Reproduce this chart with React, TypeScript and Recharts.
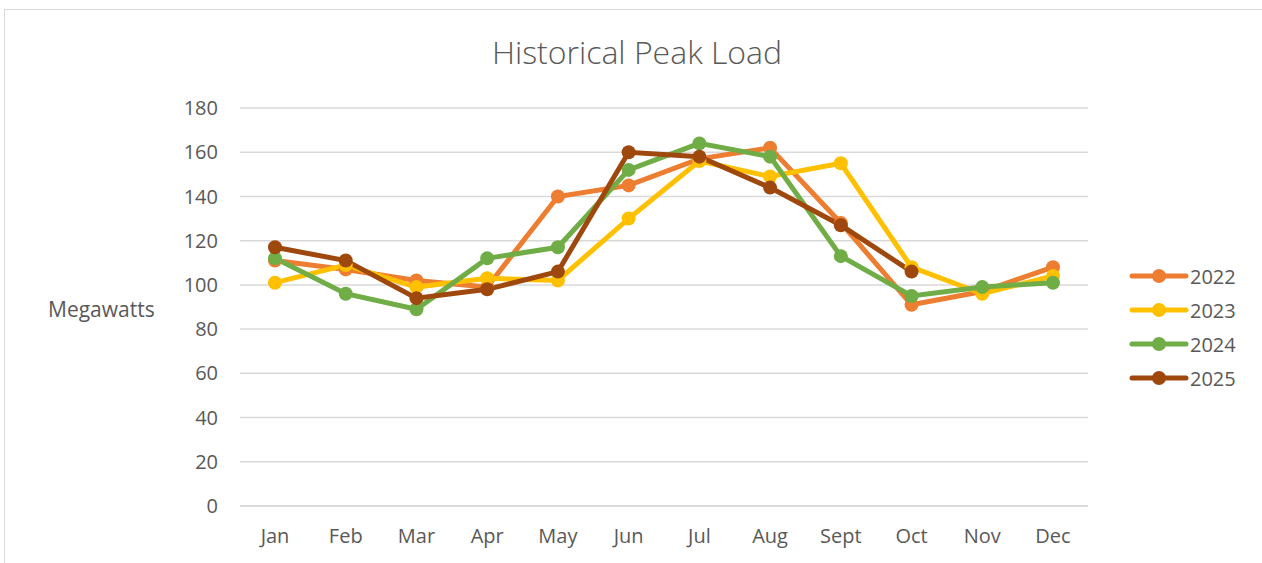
import { LineChart, Line, XAxis, YAxis, CartesianGrid } from "recharts";

const months = ["Jan", "Feb", "Mar", "Apr", "May", "Jun", "Jul", "Aug", "Sept", "Oct", "Nov", "Dec"];
const load2022 = [111, 107, 102, 99, 140, 145, 157, 162, 128, 91, 97, 108];
const load2023 = [101, 109, 99, 103, 102, 130, 156, 149, 155, 108, 96, 104];
const load2024 = [112, 96, 89, 112, 117, 152, 164, 158, 113, 95, 99, 101];
const load2025 = [117, 111, 94, 98, 106, 160, 158, 144, 127, 106, null, null];
const yTicks = [0, 20, 40, 60, 80, 100, 120, 140, 160, 180];

const series = [
  { key: "2022", color: "#ED7D31" },
  { key: "2023", color: "#FFC000" },
  { key: "2024", color: "#70AD47" },
  { key: "2025", color: "#9E480E" },
];

const data = months.map((m, i) => ({
  month: m,
  "2022": load2022[i],
  "2023": load2023[i],
  "2024": load2024[i],
  "2025": load2025[i],
}));

const font = "'Open Sans', sans-serif";
const grey = "#595959";

const App = () => {
  return (
    <div style={{ position: "absolute", left: 0, top: 0, width: 1262, height: 563, fontFamily: font, background: "#fff" }}>
      <div style={{ position: "absolute", left: 4, top: 9, width: 1270, height: 560, border: "1px solid #d9d9d9" }} />
      <div style={{ position: "absolute", left: 0, width: 1274, top: 30, textAlign: "center", fontSize: 32, lineHeight: "44px", color: grey, fontWeight: 300 }}>
        Historical Peak Load
      </div>
      <div style={{ position: "absolute", left: 0, top: 0 }}>
        <LineChart width={1262} height={563} data={data} margin={{ top: 108, right: 174, bottom: 27, left: 0 }}>
          <CartesianGrid vertical={false} stroke="#d9d9d9" strokeWidth={1.5} />
          <XAxis
            dataKey="month"
            padding={{ left: 35, right: 35 }}
            axisLine={{ stroke: "#d9d9d9", strokeWidth: 1.5 }}
            tickLine={false}
            tickMargin={17}
            tick={{ fill: grey, fontSize: 20, fontFamily: font }}
          />
          <YAxis
            width={240}
            domain={[0, 180]}
            ticks={yTicks}
            axisLine={false}
            tickLine={false}
            tickMargin={16}
            tick={{ fill: grey, fontSize: 20, fontFamily: font }}
            label={{ value: "Megawatts", position: "insideLeft", dx: 43, dy: 3, fill: grey, fontSize: 21, fontFamily: font }}
          />
          {series.map((s) => (
            <Line
              key={s.key}
              dataKey={s.key}
              stroke={s.color}
              strokeWidth={5}
              dot={{ r: 7, fill: s.color, stroke: "none" }}
              activeDot={false}
              isAnimationActive={false}
            />
          ))}
        </LineChart>
      </div>
      <div style={{ position: "absolute", left: 1128, top: 259 }}>
        {series.map((s) => (
          <div key={s.key} style={{ display: "flex", alignItems: "center", height: 34 }}>
            <svg width={62} height={20}>
              <line x1={4} y1={10} x2={58} y2={10} stroke={s.color} strokeWidth={5} strokeLinecap="round" />
              <circle cx={31} cy={10} r={7} fill={s.color} />
            </svg>
            <span style={{ fontSize: 20, color: grey }}>{s.key}</span>
          </div>
        ))}
      </div>
    </div>
  );
};

export default App;
